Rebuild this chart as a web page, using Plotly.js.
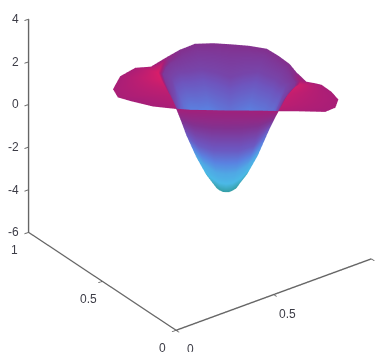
<!DOCTYPE html>
<html><head><meta charset="utf-8">
<script src="https://cdn.plot.ly/plotly-3.0.1.min.js"></script>
<style>html,body{margin:0;padding:0;background:#fff;overflow:hidden;width:379px;height:352px}
#plot{position:absolute;left:-50px;top:-111.5px;width:500px;height:500px;filter:blur(0.5px)}</style>
</head><body><div id="plot"></div>
<script>
// Each column is one bearing around the bowl's axis.
const bearing   = [1,7,10,16,25,34,46,58,72,86,101,115,128,140,146,152,158.6,167,173.7,176,186,205,225,250,270,290,315,335,343,346,349.3,355,361];
const ridgeDist = [62,70,74,77,75,75,74,74.6,70,67,70,74,75,78,78,77,70,62.6,58,56,50,54,50,46,44,46,50,57,55,54,54,55,62];
const outerDist = [105,95.8,91.4,83,77,76,75,75.6,71,68,71,75,76,80,91,103,113.9,116,108.7,95,73.4,55,51,47,45,47,51,58,75,102,111,112.4,105];
const ringA = [-3.7,-3.6,-3.55,-3.5,-3.55,-3.55,-3.55,-3.55,-3.6,-3.65,-3.6,-3.55,-3.55,-3.5,-3.5,-3.5,-3.6,-3.7,-3.72,-3.75,-3.8,-3.75,-3.8,-3.85,-3.85,-3.85,-3.8,-3.75,-3.75,-3.75,-3.75,-3.75,-3.7];
const ringB = [-2.8,-2.5,-2.4,-2.25,-2.35,-2.35,-2.4,-2.4,-2.55,-2.65,-2.5,-2.4,-2.35,-2.2,-2.2,-2.25,-2.55,-2.8,-2.9,-3,-3.2,-3.05,-3.2,-3.35,-3.4,-3.35,-3.2,-2.95,-3.05,-3.05,-3.05,-3.05,-2.8];
const ringC = [-1.6,-1.1,-0.8,-0.65,-0.75,-0.75,-0.8,-0.8,-1.05,-1.3,-1.1,-0.8,-0.75,-0.6,-0.6,-0.65,-1.1,-1.6,-1.8,-2,-2.35,-2.1,-2.3,-2.55,-2.6,-2.55,-2.3,-1.95,-2.1,-2.1,-2.1,-2.1,-1.6];
const ringD = [-0.2,0.3,0.45,0.6,0.5,0.5,0.45,0.45,0.3,0.1,0.3,0.45,0.5,0.6,0.6,0.6,0.3,-0.2,-0.5,-0.8,-1.3,-1,-1.2,-1.3,-1.3,-1.3,-1.2,-0.7,-0.9,-0.9,-0.9,-0.9,-0.2];
const ringE = [0.29,0.59,0.64,0.67,0.73,0.83,0.87,0.94,0.92,0.88,0.95,1,0.96,0.86,0.8,0.65,0.5,0.27,0.1,-0.03,-0.45,-0.12,-0.02,0.06,0.06,0.06,-0.02,-0.02,-0.18,-0.25,-0.25,-0.25,0.29];
const ridgeZ = [0.55,0.75,0.74,0.7,0.85,1,1.1,1.2,1.25,1.3,1.3,1.3,1.2,1,0.9,0.67,0.6,0.53,0.43,0.39,0,0.36,0.61,0.79,0.8,0.79,0.61,0.34,0.2,0.1,0.1,0.1,0.55];
const outerZ = [0.67,0.76,0.72,0.64,0.85,1,1.1,1.2,1.25,1.3,1.3,1.3,1.2,1,0.6,0.6,0.35,0.1,0.05,0,0.1,0.36,0.61,0.79,0.8,0.79,0.61,0.34,0.29,0.34,0.45,0.58,0.67];
const ringCShade = [0.3,0.34,0.36,0.36,0.36,0.36,0.36,0.36,0.36,0.36,0.36,0.36,0.36,0.36,0.36,0.36,0.34,0.3,0.26,0.22,0.16,0.15,0.15,0.15,0.15,0.15,0.15,0.15,0.16,0.18,0.2,0.24,0.3];
const ringDShade = [0.5,0.55,0.56,0.57,0.57,0.57,0.57,0.57,0.57,0.57,0.57,0.57,0.57,0.57,0.57,0.57,0.55,0.52,0.5,0.5,0.48,0.48,0.48,0.48,0.48,0.48,0.48,0.48,0.48,0.48,0.48,0.49,0.5];
const ringEShade = [0.63,0.63,0.63,0.63,0.62,0.62,0.62,0.62,0.62,0.62,0.62,0.62,0.62,0.62,0.62,0.62,0.62,0.63,0.64,0.65,0.68,0.68,0.68,0.68,0.68,0.68,0.68,0.68,0.68,0.66,0.65,0.64,0.63];
const ridgeShade = [0.88,0.92,0.9,0.8,0.68,0.66,0.66,0.66,0.66,0.66,0.66,0.66,0.66,0.72,0.85,0.94,0.93,0.88,0.85,0.84,0.8,0.78,0.77,0.76,0.76,0.76,0.77,0.78,0.8,0.82,0.83,0.85,0.88];
const outerShade = [0.79,0.79,0.79,0.76,0.68,0.66,0.66,0.66,0.66,0.66,0.66,0.66,0.66,0.72,0.78,0.79,0.79,0.79,0.79,0.78,0.78,0.78,0.77,0.76,0.76,0.76,0.77,0.78,0.78,0.78,0.79,0.79,0.79];
const bottomZ = -4.05;
const ringFraction = [0.2,0.4,0.6,0.8,0.93];
const ringAShade = 0.02, ringBShade = 0.06;
const centreX = 0.646, centreY = 0.516, pxPerUnit = 244, zOffset = 0;
const viewCos = 0.793, viewSin = 0.609;
const xTicks = [0,0.5,1], yTicks = [0,0.5,1], zTicks = [-6,-4,-2,0,2,4];
const xLabelled = [0,0.5], yLabelled = [0,0.5,1];

const rings = [ringA,ringB,ringC,ringD,ringE];
const distRows = [bearing.map(()=>0)]
  .concat(ringFraction.map(f=>ridgeDist.map(r=>r*f)))
  .concat([ridgeDist,outerDist]);
const zRows = [bearing.map(()=>bottomZ)].concat(rings).concat([ridgeZ,outerZ]).map(r=>r.map(v=>v+zOffset));
const cRows = [bearing.map(()=>0),bearing.map(()=>ringAShade),bearing.map(()=>ringBShade),ringCShade,ringDShade,ringEShade,ridgeShade,outerShade];
const rad = bearing.map(b=>b*Math.PI/180);
const xRows = distRows.map(row=>row.map((d,j)=>centreX+d/pxPerUnit*(Math.cos(rad[j])*viewCos+Math.sin(rad[j])*viewSin)));
const yRows = distRows.map(row=>row.map((d,j)=>centreY+d/pxPerUnit*(-Math.cos(rad[j])*viewSin+Math.sin(rad[j])*viewCos)));

const scale = [[0,'rgb(45,150,145)'],[0.08,'rgb(75,185,230)'],[0.3,'rgb(90,130,225)'],[0.5,'rgb(110,85,190)'],[0.65,'rgb(130,50,145)'],[0.78,'rgb(165,30,120)'],[1,'rgb(235,30,100)']];
const font = {family:'Liberation Sans',size:12,color:'#3c3c46'};
const axis = {showgrid:false,zeroline:false,showbackground:false,showspikes:false,showline:true,linecolor:'#666666',linewidth:3,
  ticks:'outside',ticklen:5,tickcolor:'#666666',tickwidth:2,showticklabels:false,title:{text:''}};
const note = (x,y,z,text,xshift,yshift,xanchor)=>({x,y,z,text,xshift,yshift,xanchor,yanchor:'middle',showarrow:false,font});
const labels = []
  .concat(zTicks.map(v=>note(0,1,v,String(v),-8,0,'right')))
  .concat(yLabelled.map(v=>note(0,v,-6,String(v),-14,-18,'center')))
  .concat(xLabelled.map(v=>note(v,0,-6,String(v),14,-19,'center')));
const off = {show:false,highlight:false};
Plotly.newPlot('plot',[{type:'surface',x:xRows,y:yRows,z:zRows,surfacecolor:cRows,cmin:0,cmax:1,colorscale:scale,showscale:false,
  lighting:{ambient:1,diffuse:0,specular:0,roughness:1,fresnel:0},hoverinfo:'skip',contours:{x:off,y:off,z:off}}],{
  width:500,height:500,margin:{l:0,r:0,t:0,b:0},paper_bgcolor:'#fff',showlegend:false,hovermode:false,
  scene:{domain:{x:[0,1],y:[0,1]},aspectmode:'manual',aspectratio:{x:0.973,y:0.99,z:0.98},dragmode:false,annotations:labels,
    camera:{projection:{type:'orthographic'},eye:{x:-1.063,y:-1.432,z:1.01},up:{x:0,y:0,z:1},center:{x:0,y:0,z:0}},
    xaxis:Object.assign({},axis,{range:[0,1],tickvals:xTicks}),
    yaxis:Object.assign({},axis,{range:[0,1],tickvals:yTicks}),
    zaxis:Object.assign({},axis,{range:[-6,4],tickvals:zTicks})}
},{displayModeBar:false});
</script></body></html>
